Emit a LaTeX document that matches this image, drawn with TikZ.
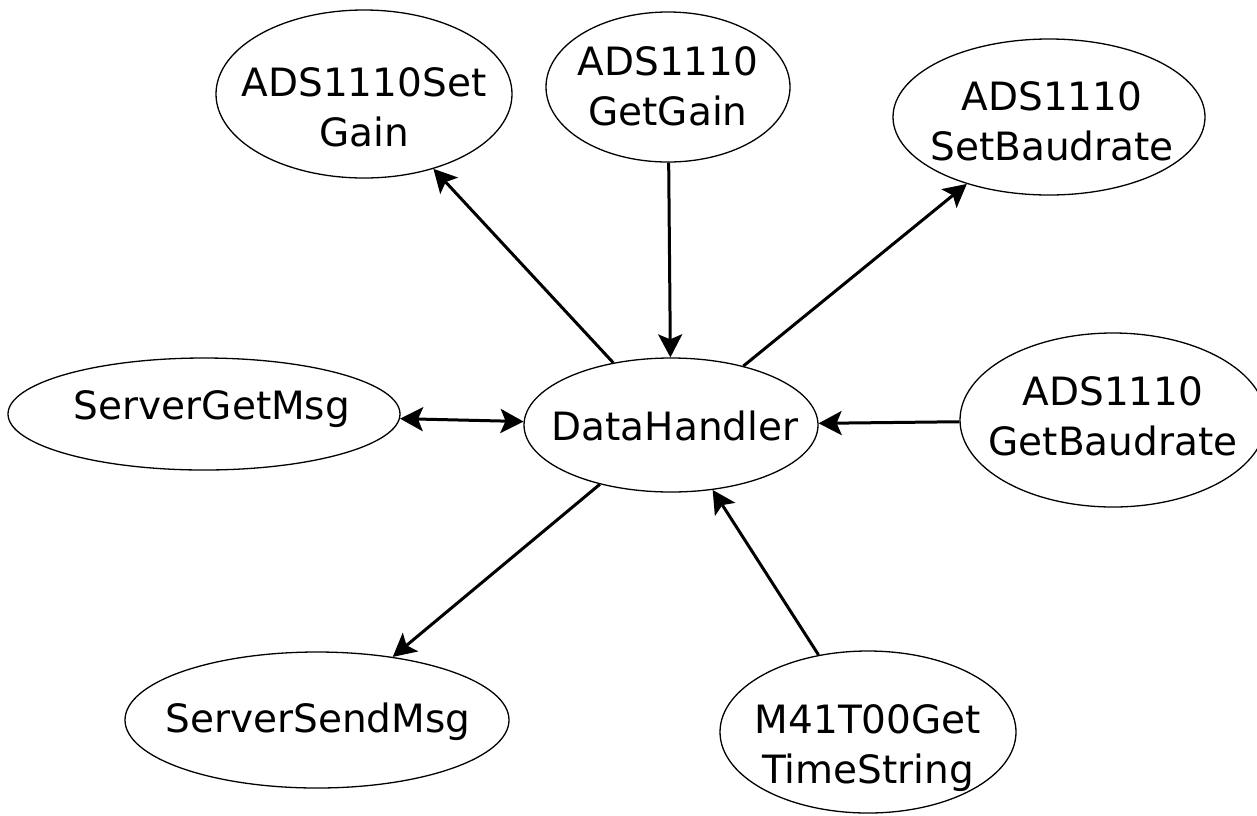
\documentclass[tikz,border=0pt]{standalone}
\usepackage{fontspec}
\setmainfont{DejaVu Sans}
\usetikzlibrary{shapes.geometric,arrows.meta}
\begin{document}
\begin{tikzpicture}[x=1pt,y=-1pt,
  state/.style={ellipse,draw,line width=1.3pt,inner sep=0pt},
  txt/.style={inner sep=0pt,align=center,font=\fontsize{39}{50}\selectfont},
  tip/.style={Stealth[length=23pt,width=24pt,inset=5pt]},
  link/.style={line width=3pt,-{Stealth[length=23pt,width=24pt,inset=5pt]}},
  bilink/.style={line width=3pt,{Stealth[length=23pt,width=24pt,inset=5pt]}-{Stealth[length=23pt,width=24pt,inset=5pt]}}]
\useasboundingbox (0,0) rectangle (1257,815);
% ellipses
\node[state,minimum width=296pt,minimum height=168pt] (setgain) at (364,94) {};
\node[state,minimum width=244pt,minimum height=150pt] (getgain) at (668,87) {};
\node[state,minimum width=312pt,minimum height=156pt] (setbaud) at (1049,117) {};
\node[state,minimum width=392pt,minimum height=112pt] (getmsg) at (204,414) {};
\node[state,minimum width=294pt,minimum height=134pt] (dh) at (671,425) {};
\node[state,minimum width=306pt,minimum height=174pt] (getbaud) at (1113,420) {};
\node[state,minimum width=384pt,minimum height=136pt] (sendmsg) at (317,720) {};
\node[state,minimum width=296pt,minimum height=162pt] (m41) at (868,732) {};
% labels
\node[txt] (setgain-t) at (364,107) {ADS1110Set\\Gain};
\node[txt] (getgain-t) at (668,86) {ADS1110\\GetGain};
\node[txt] (setbaud-t) at (1052,121) {ADS1110\\SetBaudrate};
\node[txt] (getmsg-t) at (212,409) {ServerGetMsg};
\node[txt] (dh-t) at (675,426) {DataHandler};
\node[txt] (getbaud-t) at (1113,416) {ADS1110\\GetBaudrate};
\node[txt] (sendmsg-t) at (318,722) {ServerSendMsg};
\node[txt] (m41-t) at (868,748) {M41T00Get\\TimeString};
% connectors
\draw[link] (dh) -- (setgain);
\draw[link] (getgain) -- (dh);
\draw[link] (dh) -- (setbaud);
\draw[bilink] (getmsg) -- (dh);
\draw[link] (getbaud) -- (dh);
\draw[link] (dh) -- (sendmsg);
\draw[link] (m41) -- (dh);
\end{tikzpicture}
\end{document}
